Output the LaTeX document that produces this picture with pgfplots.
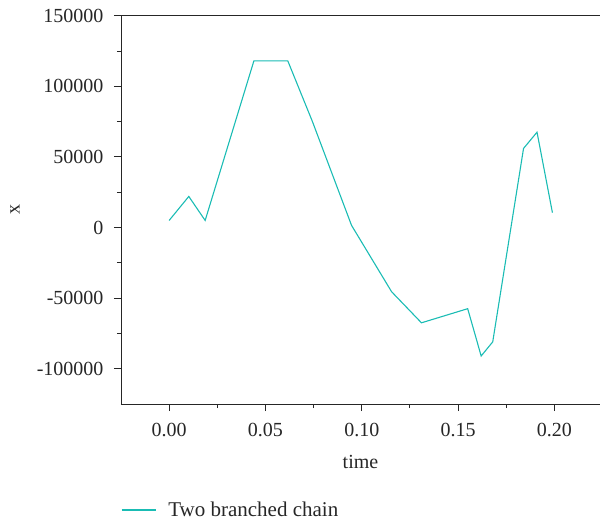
\documentclass[border=0pt]{standalone}
\usepackage{pgfplots}
\pgfplotsset{compat=1.18}
\usepackage{fontspec}
\setmainfont{Liberation Serif}
\definecolor{chaincol}{RGB}{26,188,180}

% Trajectory of the two branched chain
\pgfplotstableread{
t        x
0.0000   5000
0.0102   22000
0.0187   5000
0.0440   118000
0.0616   118000
0.0744   75000
0.0947   1500
0.1155   -45500
0.1310   -67500
0.1550   -57500
0.1620   -91000
0.1680   -81000
0.1840   56000
0.1910   67500
0.1990   10500
}\chaindata

\begin{document}
\begin{tikzpicture}[font=\fontsize{20bp}{24bp}\selectfont]
\begin{axis}[
  name=ax,
  scale only axis,
  width=479bp, height=388.3bp,
  xmin=-0.025, xmax=0.2237,
  ymin=-125000, ymax=150000,
  separate axis lines,
  axis x line*=box,
  axis y line*=left,
  xtick pos=bottom,
  ytick pos=left,
  axis line style={black!85, line width=0.9bp},
  every tick/.style={black!85, line width=0.9bp},
  tick align=outside,
  major tick length=7bp,
  minor tick length=4bp,
  minor tick num=1,
  xtick={0,0.05,0.10,0.15,0.20},
  xticklabels={0.00,0.05,0.10,0.15,0.20},
  ytick={-100000,-50000,0,50000,100000,150000},
  yticklabels={-100000,-50000,0,50000,100000,150000},
  scaled ticks=false,
  tick label style={font=\fontsize{20bp}{24bp}\selectfont, text=black!85},
  xticklabel style={yshift=-9bp},
  yticklabel style={xshift=-7bp},
  xlabel={time},
  ylabel={x},
  every axis x label/.style={at={(axis description cs:0.5,0)}, anchor=center, yshift=-58bp, text=black!85},
  every axis y label/.style={at={(axis description cs:0,0.5)}, anchor=center, xshift=-106bp, rotate=90, text=black!85},
  legend style={at={(axis description cs:0,0)}, anchor=west, xshift=0bp, yshift=-106bp,
    draw=none, fill=none, inner sep=0pt, text=black!85,
    font=\fontsize{21bp}{24bp}\selectfont},
  legend cell align=left,
  legend image code/.code={\draw[#1] (0bp,0bp) -- (34bp,0bp); \path (44bp,0bp);},
]
\addplot[chaincol, line width=1.1bp, mark=none] table[x=t, y=x] {\chaindata};
\addlegendentry{Two branched chain}
\end{axis}
\pgfresetboundingbox
\path (ax.south west) ++(-121bp,-118bp) rectangle ++(601bp,522bp);
\end{tikzpicture}
\end{document}
